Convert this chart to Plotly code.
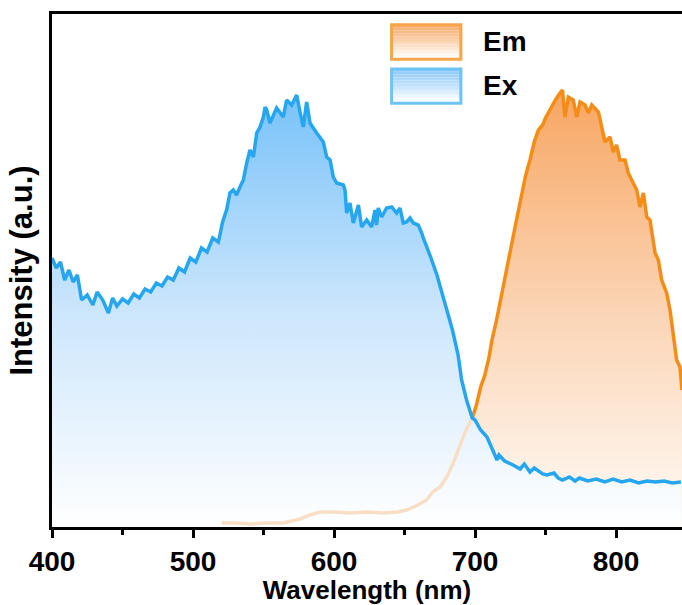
import plotly.graph_objects as go

# ---- data (wavelength in nm, intensity in arbitrary units) ----
ex_wavelength = [400, 403, 406, 409, 412, 415, 418, 421, 425, 429, 432, 436, 440, 443, 446, 450,
                 454, 458, 462, 466, 470, 474, 478, 482, 486, 490, 494, 498, 502, 506, 510, 514,
                 518, 521, 524, 526.2, 528.6, 530.9, 533.3, 535.7, 538.1, 540.4, 542.8, 545.2,
                 547.5, 549.9, 551.1, 552.3, 554.6, 559.3, 564.0, 566.4, 570.0, 573.5, 575.9,
                 578.2, 580.6, 583.0, 587.7, 592.4, 594.8, 597.2, 599.5, 601.9, 606.6, 607.8,
                 609.0, 611.3, 613.7, 617.3, 619.6, 623.2, 626.7, 629.1, 630.2, 631.4, 633.8,
                 637.3, 640.9, 644.4, 646.8, 649.1, 651.5, 653.9, 656.2, 659.8, 662.2, 663.3,
                 668, 673, 679, 684, 688, 690.5, 694, 698, 700, 704, 708.5, 712, 715.6, 717,
                 721, 727, 732, 735, 739, 742, 745, 748, 751, 756, 759, 762, 767, 771, 774, 780,
                 786, 792, 798, 804, 810, 816, 822, 828, 834, 840, 846]
ex_intensity = [269, 259, 265, 247, 257, 245, 252, 227, 232, 222, 235, 227, 214, 229, 221, 228,
                224, 233, 229, 238, 235, 244, 241, 250, 247, 259, 255, 269, 265, 279, 275, 289,
                285, 305, 318, 334, 337, 332, 340, 347, 364, 377, 370, 394,
                400, 410, 420, 417, 404, 419, 410, 427, 422, 432, 415,
                400, 425, 404, 394, 385, 370, 367, 350, 344, 342, 337,
                314, 324, 304, 322, 300, 307, 300, 317, 302, 319, 310,
                319, 320, 314, 319, 304, 305, 309, 304, 302, 294, 289,
                272, 252, 222, 197, 172, 147, 127, 109, 107, 97, 90, 78, 67, 72,
                66, 62, 58, 63, 55, 59, 56, 53, 52, 54, 49, 47, 50, 46, 49, 46,
                48, 45, 48, 45, 47, 44, 46, 45, 46, 44, 45]

em_wavelength = [520.3, 530, 540.4, 552, 564, 575.9, 583, 590.1, 600, 611.3, 623, 635, 645,
                 651.5, 658, 665.7, 670, 675.2, 680, 684, 689, 693, 698, 701, 704, 707, 710,
                 712, 715, 718, 721, 723, 726, 728, 731, 733, 736, 739, 742, 745, 748, 750,
                 753, 757, 760.3, 762, 763.8, 766.2, 769.7, 772.1, 774.5, 778, 780.4, 782.8,
                 787.5, 789.8, 792.2, 795.7, 798.1, 800.4, 802.8, 806.4, 808.7, 811.1, 814.7,
                 817, 819.4, 821.8, 824.1, 827.7, 830, 832.4, 835.9, 838.3, 840.7, 843, 845.4,
                 846.8]
em_intensity = [4, 4, 3, 4, 4, 8, 12, 15, 15, 14, 15, 14, 15,
                17, 21, 27, 35, 40, 50, 62, 80, 95, 109, 122, 140, 152, 170,
                187, 205, 227, 250, 262, 285, 297, 318, 332, 352, 367, 385, 397, 402, 409,
                417, 427, 434, 437, 410, 430, 427, 410, 425, 422, 414, 422,
                415, 400, 385, 390, 375, 382, 367, 367, 354, 347, 337,
                320, 334, 310, 307, 274, 267, 247, 234, 217, 194, 167, 160,
                137]

crossing_nm = 698  # where the Em curve emerges above the Ex curve

x_range = [400, 846.8]
y_range = [0, 513]
x_ticks = [400, 500, 600, 700, 800]

FONT = "Liberation Sans, Arial, sans-serif"

fig = go.Figure()

# emission: fill + vivid line
fig.add_trace(go.Scatter(
    x=em_wavelength, y=em_intensity, mode="lines", name="Em",
    line=dict(color="rgb(245,140,22)", width=3.5),
    fill="tozeroy",
    fillgradient=dict(type="vertical", start=0, stop=437,
                      colorscale=[[0, "rgb(255,251,247)"], [0.5, "rgb(251,212,180)"],
                                  [1, "rgb(247,166,98)"]]),
    showlegend=False,
))

# excitation fill (veils emission below the Ex curve)
fig.add_trace(go.Scatter(
    x=ex_wavelength, y=ex_intensity, mode="none", name="Ex fill",
    fill="tozeroy",
    fillgradient=dict(type="vertical", start=0, stop=432,
                      colorscale=[[0, "rgb(255,255,255)"], [0.5, "rgb(204,230,252)"],
                                  [1, "rgb(120,194,249)"]]),
    showlegend=False, hoverinfo="skip",
))

# faded part of emission seen through the Ex fill
em_low = [(w, v) for w, v in zip(em_wavelength, em_intensity) if w <= crossing_nm]
fig.add_trace(go.Scatter(
    x=[p[0] for p in em_low], y=[p[1] for p in em_low], mode="lines",
    line=dict(color="rgb(248,222,196)", width=3.5), showlegend=False, hoverinfo="skip",
))

# excitation line
fig.add_trace(go.Scatter(
    x=ex_wavelength, y=ex_intensity, mode="lines", name="Ex",
    line=dict(color="rgb(38,166,238)", width=3.5), showlegend=False,
))

# ---- custom legend (gradient boxes) ----
def legend_box(y0, y1, top_rgb, border):
    n = 12
    x0, x1 = 0.539, 0.649
    for i in range(n):
        t = i / (n - 1)
        r = int(top_rgb[0] + (255 - top_rgb[0]) * t)
        g = int(top_rgb[1] + (255 - top_rgb[1]) * t)
        b = int(top_rgb[2] + (255 - top_rgb[2]) * t)
        ya = y1 - (y1 - y0) * i / n
        yb = y1 - (y1 - y0) * (i + 1) / n
        fig.add_shape(type="rect", xref="paper", yref="paper", x0=x0, x1=x1, y0=yb, y1=ya,
                      line=dict(width=0), fillcolor=f"rgb({r},{g},{b})", layer="above")
    fig.add_shape(type="rect", xref="paper", yref="paper", x0=x0, x1=x1, y0=y0, y1=y1,
                  line=dict(color=border, width=3), fillcolor="rgba(0,0,0,0)", layer="above")

legend_box(0.912, 0.979, (248, 172, 108), "rgb(245,165,75)")
legend_box(0.826, 0.893, (140, 200, 250), "rgb(110,195,245)")
fig.add_annotation(x=0.681, y=0.946, xref="paper", yref="paper", text="Em", showarrow=False,
                   xanchor="left", yanchor="middle", font=dict(family=FONT, size=28, color="black", weight="bold"))
fig.add_annotation(x=0.681, y=0.860, xref="paper", yref="paper", text="Ex", showarrow=False,
                   xanchor="left", yanchor="middle", font=dict(family=FONT, size=28, color="black", weight="bold"))

fig.update_layout(
    width=682, height=605,
    margin=dict(l=52, r=0, t=14, b=78),
    paper_bgcolor="white", plot_bgcolor="white",
    font=dict(family=FONT, color="black"),
    showlegend=False,
)
fig.update_xaxes(
    range=x_range, tickvals=x_ticks, ticks="outside", ticklen=8, tickwidth=2.5, tickcolor="black",
    minor=dict(dtick=50, tick0=450, ticks="outside", ticklen=5, tickwidth=2.5, tickcolor="black"),
    showline=True, linecolor="black", linewidth=2.5, mirror=True, showgrid=False, zeroline=False,
    tickfont=dict(family=FONT, size=28, color="black", weight="bold"),
    title=dict(text="Wavelength (nm)", font=dict(family=FONT, size=26, color="black", weight="bold"),
               standoff=3),
)
fig.update_yaxes(
    range=y_range, showticklabels=False, ticks="", showline=True, linecolor="black", linewidth=2.5,
    mirror=False, showgrid=False, zeroline=False,
    title=dict(text="Intensity (a.u.)", font=dict(family=FONT, size=31, color="black", weight="bold"),
               standoff=8),
)

fig.write_html("out.html")
